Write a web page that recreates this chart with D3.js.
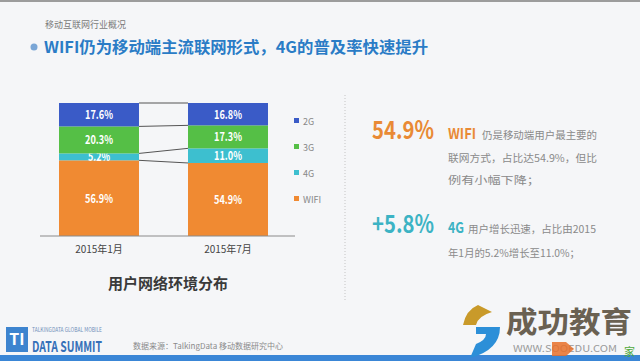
<!DOCTYPE html>
<html><head><meta charset="utf-8">
<script src="https://cdn.jsdelivr.net/npm/d3@7"></script>
<style>
html,body{margin:0;padding:0;background:#f5f6f8;}
svg{display:block;}
text{font-family:"Noto Sans CJK SC","Noto Sans",sans-serif;}
</style></head>
<body>
<script>
const categories = ["2015年1月", "2015年7月"];
const seriesNames = ["2G", "3G", "4G", "WIFI"];
const values2G = [17.6, 16.8];
const values3G = [20.3, 17.3];
const values4G = [5.2, 11.0];
const valuesWIFI = [56.9, 54.9];
const seriesColors = ["#3a5bc7", "#55bf46", "#3dbfcf", "#f08a32"];

const W = 640, H = 361;
const svg = d3.select("body").append("svg").attr("width", W).attr("height", H);
svg.append("rect").attr("width", W).attr("height", H).attr("fill", "#f5f6f8");
svg.append("rect").attr("width", W).attr("height", 2).attr("fill", "#9c9c9c");
const arial = "'Liberation Sans',Arial,sans-serif";

// header
svg.append("text").attr("x", 45).attr("y", 28).attr("font-size", 9).attr("fill", "#7a7a7a").text("移动互联网行业概况");
svg.append("circle").attr("cx", 34).attr("cy", 47).attr("r", 3.5).attr("fill", "#7aa6d6");
svg.append("text").attr("x", 44).attr("y", 53).attr("font-size", 16).attr("font-weight", "bold").attr("fill", "#2a7cc6")
  .attr("textLength", 384).attr("lengthAdjust", "spacingAndGlyphs")
  .text("WIFI仍为移动端主流联网形式，4G的普及率快速提升");

// chart
const seriesValues = [values2G, values3G, values4G, valuesWIFI];
const rows = categories.map((c, i) => {
  const o = {cat: c};
  seriesNames.forEach((s, j) => o[s] = seriesValues[j][i]);
  return o;
});
const stackOrder = ["WIFI", "4G", "3G", "2G"];
const stacked = d3.stack().keys(stackOrder)(rows);

const x = d3.scaleBand().domain(categories).range([34.5, 292.5]).paddingInner(0.38).paddingOuter(0.19);
const y = d3.scaleLinear().domain([0, 100]).range([236, 103]);
const color = d3.scaleOrdinal().domain(seriesNames).range(seriesColors);

// connectors between bars
const bounds = stacked.map(s => s.map(d => d[1]));
bounds.forEach(b => {
  svg.append("line")
    .attr("x1", x(categories[0]) + x.bandwidth()).attr("y1", y(b[0]))
    .attr("x2", x(categories[1])).attr("y2", y(b[1]))
    .attr("stroke", "#555").attr("stroke-width", 1);
});

const g = svg.append("g");
stacked.forEach(s => {
  g.selectAll(null).data(s).enter().append("rect")
    .attr("x", d => x(d.data.cat)).attr("width", x.bandwidth())
    .attr("y", d => y(d[1])).attr("height", d => y(d[0]) - y(d[1]))
    .attr("fill", color(s.key));
  g.selectAll(null).data(s).enter().append("text")
    .attr("x", d => x(d.data.cat) + x.bandwidth() / 2)
    .attr("y", d => (y(d[0]) + y(d[1])) / 2 + 4.5)
    .attr("text-anchor", "middle").attr("font-size", 12).attr("font-weight", "bold")
    .attr("font-family", arial)
    .attr("textLength", d => ((d[1] - d[0]).toFixed(1).length === 3 ? 22 : 28)).attr("lengthAdjust", "spacingAndGlyphs")
    .attr("fill", "#fff")
    .text(d => (d[1] - d[0]).toFixed(1) + "%");
});

// axis
const xAxis = svg.append("g").attr("transform", "translate(0,236)")
  .call(d3.axisBottom(x).tickSize(0).tickPadding(10));
xAxis.select(".domain").remove();
xAxis.append("line").attr("x1", 40).attr("x2", 295).attr("y1", 0).attr("y2", 0).attr("stroke", "#8a8a8a");
xAxis.selectAll(".tick text").attr("font-size", 10).attr("fill", "#444")
  .attr("font-family", "'Noto Sans CJK SC',sans-serif");

// legend
const leg = svg.append("g");
seriesNames.forEach((s, i) => {
  const ly = 121 + i * 26;
  leg.append("rect").attr("x", 294).attr("y", ly - 3).attr("width", 5).attr("height", 5).attr("fill", color(s));
  leg.append("text").attr("x", 303).attr("y", ly + 3.5).attr("font-size", 9).attr("fill", "#888").text(s);
});

svg.append("text").attr("x", 168).attr("y", 289).attr("text-anchor", "middle")
  .attr("font-size", 15).attr("font-weight", "bold").attr("fill", "#3a3a3a").text("用户网络环境分布");

// divider
svg.append("line").attr("x1", 345).attr("x2", 345).attr("y1", 95).attr("y2", 302)
  .attr("stroke", "#c4c4c4").attr("stroke-width", 1).attr("stroke-dasharray", "1,2");

// right annotations
const big = (xx, yy, txt, col) => svg.append("text").attr("x", xx).attr("y", yy).attr("font-size", 25).attr("font-weight", "bold")
  .attr("font-family", arial).attr("fill", col).attr("textLength", 62).attr("lengthAdjust", "spacingAndGlyphs").text(txt);
big(372, 139, "54.9%", "#e98a35");
big(372, 233, "+5.8%", "#3cb3c4");
const tag = (xx, yy, txt, col, len) => svg.append("text").attr("x", xx).attr("y", yy).attr("font-size", 15).attr("font-weight", "bold")
  .attr("font-family", arial).attr("fill", col).attr("textLength", len).attr("lengthAdjust", "spacingAndGlyphs").text(txt);
tag(448, 139, "WIFI", "#e98a35", 28);
tag(448, 233, "4G", "#3cb3c4", 16);
const body = (xx, yy, txt, len) => svg.append("text").attr("x", xx).attr("y", yy).attr("font-size", 10.5).attr("fill", "#8a8a8a")
  .attr("textLength", len).attr("lengthAdjust", "spacingAndGlyphs").text(txt);
body(482, 139, "仍是移动端用户最主要的", 115);
body(448, 162, "联网方式，占比达54.9%，但比", 149);
body(448, 184, "例有小幅下降；", 92);
body(468, 233, "用户增长迅速，占比由2015", 128);
body(448, 257, "年1月的5.2%增长至11.0%；", 132);

// footer
svg.append("rect").attr("x", 0).attr("y", 355).attr("width", W).attr("height", 6).attr("fill", "#3a86d6");
svg.append("rect").attr("x", 6).attr("y", 327).attr("width", 22).attr("height", 25).attr("fill", "#3d84cf");
svg.append("text").attr("x", 17).attr("y", 345).attr("text-anchor", "middle").attr("font-size", 16).attr("font-weight", "bold")
  .attr("font-family", arial).attr("fill", "#fff").text("TI");
svg.append("text").attr("x", 32).attr("y", 332).attr("font-size", 5.5).attr("font-family", arial).attr("fill", "#6f8fb8")
  .attr("textLength", 70).attr("lengthAdjust", "spacingAndGlyphs").text("TALKINGDATA GLOBAL MOBILE");
svg.append("text").attr("x", 32).attr("y", 352).attr("font-size", 15).attr("font-weight", "bold")
  .attr("font-family", arial).attr("fill", "#3570b8").attr("textLength", 70).attr("lengthAdjust", "spacingAndGlyphs").text("DATA SUMMIT");
svg.append("text").attr("x", 133).attr("y", 349).attr("font-size", 8).attr("fill", "#8a8a8a").text("数据来源：TalkingData 移动数据研究中心");

// watermark
svg.append("path").attr("d", "M478,305 Q466,310 463,325 L476,325 Q478,316 492,312 Z").attr("fill", "#c99a2a");
svg.append("path").attr("d", "M476,327 L500,327 Q500,350 470,358 L476,344 Q486,340 486,334 L476,334 Z").attr("fill", "#2c8fd8");
svg.append("text").attr("x", 506).attr("y", 333).attr("font-size", 29).attr("font-weight", "bold").attr("fill", "#6a6152")
  .attr("textLength", 126).attr("lengthAdjust", "spacingAndGlyphs").text("成功教育");
svg.append("text").attr("x", 513).attr("y", 352).attr("font-size", 9).attr("font-family", arial).attr("fill", "#9a9a9a")
  .attr("textLength", 104).attr("lengthAdjust", "spacingAndGlyphs").text("WWW.SOOEDU.COM");
svg.append("path").attr("d", "M552,342 L566,342 L574,349 L566,356 L552,356 Z").attr("fill", "#e8702a").attr("opacity", 0.85);
svg.append("text").attr("x", 624).attr("y", 356).attr("font-size", 11).attr("fill", "#4faa3c").text("家");
</script>
</body></html>
